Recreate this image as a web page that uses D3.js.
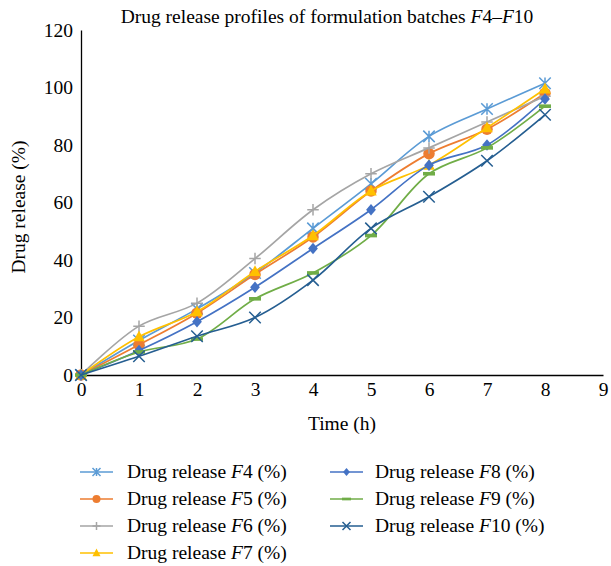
<!DOCTYPE html>
<html><head><meta charset="utf-8">
<script src="https://cdn.jsdelivr.net/npm/d3@7"></script>
<style>body{margin:0;background:#fff}svg{display:block}text{font-family:"Liberation Serif","DejaVu Serif",serif;fill:#000}</style>
</head><body><div id="chart"></div>
<script>
const hours = [0,1,2,3,4,5,6,7,8];
const xTicks = [0,1,2,3,4,5,6,7,8,9];
const yTicks = [0,20,40,60,80,100,120];
const seriesNames = ["F4","F5","F6","F7","F8","F9","F10"];
const F4  = [0,12,23,35.5,51,66.5,83,92.5,101.5];
const F5  = [0,10.5,21.5,35,48,64,77,85.5,98];
const F6  = [0,17,25,40.5,57.5,70,79,88,97];
const F7  = [0,13.3,22,36,48.5,64,73,86,99.5];
const F8  = [0,8.5,18.5,30.5,44,57.5,73,80,96];
const F9  = [0,8,12.5,26.5,35.5,48.5,70,79,93.5];
const F10 = [0,6.5,13.5,20,33,51,62,74.5,90.5];
const seriesValues = [F4,F5,F6,F7,F8,F9,F10];
const colors = ["#5B9BD5","#ED7D31","#A5A5A5","#FFC000","#4472C4","#70AD47","#255E91"];
const markers = ["asterisk","circle","plus","triangle","diamond","dash","cross"];

const W=611,H=566;
const svg=d3.select("#chart").append("svg").attr("width",W).attr("height",H);
const x=d3.scaleLinear().domain([0,9]).range([81,603]);
const y=d3.scaleLinear().domain([0,120]).range([375,30]);
const FS=19.5;

svg.append("text").attr("x",327).attr("y",23).attr("text-anchor","middle").attr("font-size",19.5)
  .html('Drug release profiles of formulation batches <tspan font-style="italic">F</tspan>4–<tspan font-style="italic">F</tspan>10');

// axes
const ya=svg.append("g").attr("transform","translate(81,0)").call(d3.axisLeft(y).tickValues(yTicks).tickSize(0).tickPadding(8));
ya.select(".domain").attr("stroke","#000").attr("stroke-width",1.3);
ya.selectAll("text").attr("font-size",FS).attr("font-family","Liberation Serif, serif");
const xa=svg.append("g").attr("transform","translate(0,375)").call(d3.axisBottom(x).tickValues(xTicks).tickSize(0).tickPadding(7));
xa.select(".domain").attr("stroke","#000").attr("stroke-width",1.3);
xa.selectAll("text").attr("font-size",FS).attr("font-family","Liberation Serif, serif");

svg.append("text").attr("x",342).attr("y",430).attr("text-anchor","middle").attr("font-size",FS).text("Time (h)");
svg.append("text").attr("transform","translate(25,207) rotate(-90)").attr("text-anchor","middle").attr("font-size",FS).text("Drug release (%)");

function drawMarker(g,type,cx,cy,s,color){
  const r=s/2;
  if(type==="circle") g.append("circle").attr("cx",cx).attr("cy",cy).attr("r",r).attr("fill",color);
  else if(type==="triangle") g.append("path").attr("d",`M${cx},${cy-r*1.1}L${cx+r},${cy+r*0.8}L${cx-r},${cy+r*0.8}Z`).attr("fill",color);
  else if(type==="diamond") g.append("path").attr("d",`M${cx},${cy-r}L${cx+r*0.85},${cy}L${cx},${cy+r}L${cx-r*0.85},${cy}Z`).attr("fill",color);
  else if(type==="dash") g.append("rect").attr("x",cx-r).attr("y",cy-r*0.3).attr("width",2*r).attr("height",r*0.6).attr("fill",color);
  else if(type==="plus") g.append("path").attr("d",`M${cx-r},${cy}H${cx+r}M${cx},${cy-r}V${cy+r}`).attr("stroke",color).attr("stroke-width",1.5);
  else if(type==="cross") g.append("path").attr("d",`M${cx-r},${cy-r}L${cx+r},${cy+r}M${cx+r},${cy-r}L${cx-r},${cy+r}`).attr("stroke",color).attr("stroke-width",1.5);
  else if(type==="asterisk") g.append("path").attr("d",`M${cx-r},${cy-r}L${cx+r},${cy+r}M${cx+r},${cy-r}L${cx-r},${cy+r}M${cx},${cy-r}V${cy+r}`).attr("stroke",color).attr("stroke-width",1.5);
}

const line=d3.line().x((d,i)=>x(hours[i])).y(d=>y(d)).curve(d3.curveCatmullRom.alpha(0.5));
seriesValues.forEach((vals,k)=>{
  const g=svg.append("g");
  g.append("path").attr("d",line(vals)).attr("fill","none").attr("stroke",colors[k]).attr("stroke-width",1.7);
  vals.forEach((v,i)=>drawMarker(g,markers[k],x(hours[i]),y(v),markers[k]==="dash"?12:11.5,colors[k]));
});

// legend
const legCols=[{lx:80,tx:127},{lx:330,tx:375}];
const rowsY=[478,505,532,559];
seriesNames.forEach((n,k)=>{
  const col=k<4?0:1, row=k<4?k:k-4;
  const c=legCols[col], yy=rowsY[row];
  const g=svg.append("g");
  g.append("line").attr("x1",c.lx).attr("x2",c.lx+33).attr("y1",yy-6).attr("y2",yy-6).attr("stroke",colors[k]).attr("stroke-width",1.7);
  drawMarker(g,markers[k],c.lx+16.5,yy-6,markers[k]==="dash"?9:8,colors[k]);
  g.append("text").attr("x",c.tx).attr("y",yy).attr("font-size",19.5)
    .html(`Drug release <tspan font-style="italic">F</tspan>${n.slice(1)} (%)`);
});
</script></body></html>
